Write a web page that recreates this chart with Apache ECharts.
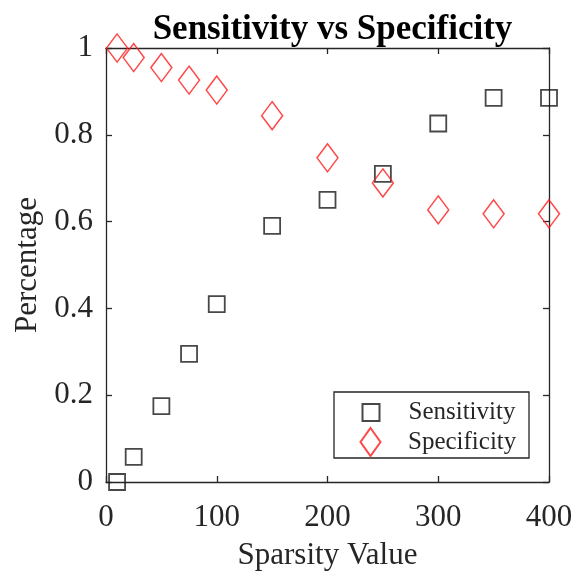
<!DOCTYPE html>
<html>
<head>
<meta charset="utf-8">
<script src="https://cdn.jsdelivr.net/npm/echarts@6/dist/echarts.min.js"></script>
<style>html,body{margin:0;padding:0;background:#fff}#c{width:576px;height:571px}</style>
</head>
<body>
<div id="c"></div>
<script>
var sparsity = [10, 25, 50, 75, 100, 150, 200, 250, 300, 350, 400];
var sensitivity = [0.0, 0.058, 0.175, 0.295, 0.41, 0.59, 0.65, 0.71, 0.826, 0.885, 0.885];
var specificity = [1.0, 0.978, 0.955, 0.926, 0.903, 0.844, 0.747, 0.689, 0.627, 0.618, 0.618];
var seriesNames = ['Sensitivity', 'Specificity'];
var titleText = 'Sensitivity vs Specificity';
var xName = 'Sparsity Value';
var yName = 'Percentage';

var FONT = '"Liberation Serif", "Times New Roman", serif';
var AX = '#262626';
var diamond = 'path://M0,0 L10,14 L0,28 L-10,14 Z';

function pairs(xs, ys) { return xs.map(function (x, i) { return [x, ys[i]]; }); }

var chart = echarts.init(document.getElementById('c'), null, { renderer: 'canvas' });
var axisCommon = {
  axisLine: { show: true, onZero: false, lineStyle: { color: AX, width: 1.3 } },
  axisTick: { show: true, inside: true, length: 6, lineStyle: { color: AX, width: 1.3 } },
  splitLine: { show: false }
};
chart.setOption({
  animation: false,
  backgroundColor: '#fff',
  title: {
    text: titleText, left: 327.5, textAlign: 'center', top: 7,
    textStyle: { fontFamily: FONT, fontWeight: 'bold', fontSize: 35, color: '#000' }
  },
  grid: { left: 106, right: 27, top: 48, bottom: 89, containLabel: false, outerBoundsMode: 'none' },
  xAxis: [
    Object.assign({
      type: 'value', min: 0, max: 400, interval: 100, position: 'bottom',
      name: xName, nameLocation: 'middle', nameGap: 58,
      nameTextStyle: { fontFamily: FONT, fontSize: 31, color: AX },
      axisLabel: { fontFamily: FONT, fontSize: 31, color: AX, margin: 20 }
    }, axisCommon),
    Object.assign({
      type: 'value', min: 0, max: 400, interval: 100, position: 'top',
      axisLabel: { show: false }
    }, axisCommon)
  ],
  yAxis: [
    Object.assign({
      type: 'value', min: 0, max: 1, interval: 0.2, position: 'left',
      name: yName, nameLocation: 'middle', nameGap: 62,
      nameTextStyle: { fontFamily: FONT, fontSize: 31, color: AX },
      axisLabel: {
        fontFamily: FONT, fontSize: 31, color: AX, margin: 13,
        formatter: function (v) { return (v === 0 || v === 1) ? String(v) : v.toFixed(1); }
      }
    }, axisCommon),
    Object.assign({
      type: 'value', min: 0, max: 1, interval: 0.2, position: 'right',
      axisLabel: { show: false }
    }, axisCommon)
  ],
  legend: [
    {
      data: [seriesNames[0]], orient: 'vertical', left: 361.5, top: 400, padding: 0,
      itemWidth: 17, itemHeight: 17, selectedMode: false,
      textStyle: { fontFamily: FONT, fontSize: 25, color: AX, padding: [0, 0, 0, 24] }
    },
    {
      data: [seriesNames[1]], orient: 'vertical', left: 359.5, top: 427, padding: 0,
      itemWidth: 21, itemHeight: 28, selectedMode: false,
      textStyle: { fontFamily: FONT, fontSize: 25, color: AX, padding: [0, 0, 0, 22] }
    }
  ],
  graphic: [{
    type: 'rect', z: 1, shape: { x: 334, y: 392, width: 195, height: 66 },
    style: { fill: '#fff', stroke: AX, lineWidth: 1.3 }
  }],
  series: [
    {
      name: seriesNames[0], type: 'scatter', clip: false,
      data: pairs(sparsity, sensitivity),
      symbol: 'rect', symbolSize: 16,
      itemStyle: { color: 'rgba(0,0,0,0)', borderColor: '#1a1a1a', borderWidth: 1.8 },
      z: 3
    },
    {
      name: seriesNames[1], type: 'scatter', clip: false,
      data: pairs(sparsity, specificity),
      symbol: diamond, symbolSize: [21, 28],
      itemStyle: { color: 'rgba(0,0,0,0)', borderColor: '#ff1a1a', borderWidth: 1.5 },
      z: 3
    }
  ]
});
</script>
</body>
</html>
